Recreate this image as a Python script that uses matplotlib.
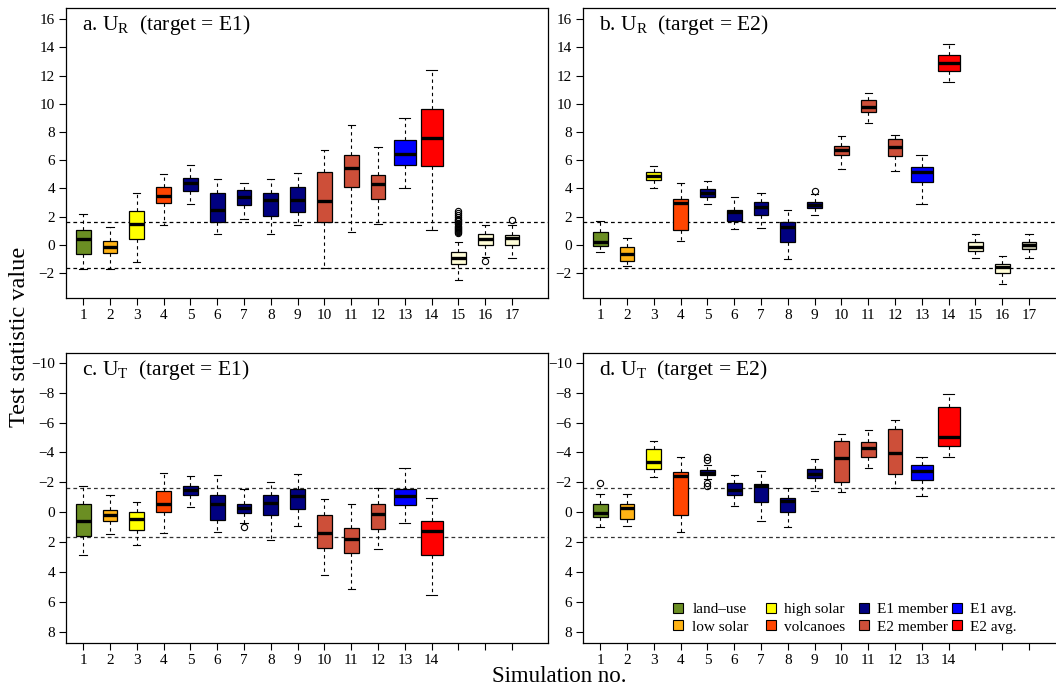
import numpy as np
import matplotlib
matplotlib.use("Agg")
import matplotlib.pyplot as plt
from matplotlib.lines import Line2D
from matplotlib.legend import Legend

plt.rcParams['font.family'] = 'Liberation Serif'
plt.rcParams['mathtext.fontset'] = 'custom'
plt.rcParams['mathtext.rm'] = 'Liberation Serif'
plt.rcParams['mathtext.it'] = 'Liberation Serif:italic'

sims = list(range(1, 18))
box_w = [0.55]*12 + [0.82, 0.82] + [0.55]*3

# colours per simulation
c_land, c_low, c_high, c_volc = '#6B8E23', '#FFB315', '#FFFF00', '#FF4500'
c_e1, c_e2, c_e1avg, c_e2avg = '#000080', '#CD4F39', '#0000FF', '#FF0000'
c_ctl, c_ctl2 = '#FFFDD8', '#C8C8AE'
cols_a = [c_land, c_low, c_high, c_volc] + [c_e1]*5 + [c_e2]*3 + [c_e1avg, c_e2avg] + [c_ctl]*3
cols_b = cols_a[:16] + [c_ctl2]

# a. U_R target E1
a_lo  = [-1.75, -1.70, -1.25, 1.40, 2.89, 0.76, 1.80, 0.76, 1.40, -1.66, 0.88, 1.44, 4.00, 1.04, -2.51, -0.85, -0.92]
a_q1  = [-0.66, -0.57, 0.43, 2.93, 3.81, 1.59, 2.84, 2.03, 2.29, 1.63, 4.09, 3.22, 5.68, 5.61, -1.40, 0.00, -0.05]
a_med = [0.38, -0.14, 1.49, 3.48, 4.35, 2.44, 3.38, 3.15, 3.19, 3.08, 5.44, 4.31, 6.46, 7.59, -0.97, 0.38, 0.47]
a_q3  = [1.04, 0.28, 2.37, 4.07, 4.76, 3.69, 3.86, 3.64, 4.09, 5.18, 6.34, 4.97, 7.43, 9.60, -0.52, 0.76, 0.66]
a_hi  = [2.18, 1.28, 3.69, 5.02, 5.68, 4.64, 4.40, 4.68, 5.11, 6.74, 8.49, 6.96, 8.99, 12.37, 0.21, 1.37, 1.37]
a_out = [[]]*14 + [[0.82, 0.90, 0.97, 1.05, 1.12, 1.20, 1.28, 1.36, 1.45, 1.55, 1.65, 1.75, 1.86, 1.98, 2.12, 2.27, 2.42],
                   [-1.15], [1.75]]

# b. U_R target E2
b_lo  = [-0.50, -1.51, 4.00, 0.28, 2.89, 1.09, 1.18, -0.99, 2.13, 5.35, 8.64, 5.25, 2.89, 11.52, -0.97, -2.77, -0.97]
b_q1  = [-0.07, -1.14, 4.59, 1.04, 3.41, 1.70, 2.08, 0.17, 2.58, 6.34, 9.39, 6.27, 4.42, 12.30, -0.47, -2.03, -0.33]
b_med = [0.17, -0.66, 4.90, 2.98, 3.69, 2.29, 2.70, 1.25, 2.84, 6.70, 9.79, 6.96, 5.13, 12.89, -0.14, -1.61, -0.05]
b_q3  = [0.88, -0.17, 5.13, 3.26, 3.93, 2.48, 3.00, 1.59, 3.03, 7.03, 10.29, 7.48, 5.54, 13.44, 0.17, -1.40, 0.17]
b_hi  = [1.70, 0.45, 5.61, 4.35, 4.52, 3.36, 3.64, 2.46, 3.60, 7.74, 10.79, 7.76, 6.36, 14.27, 0.73, -0.83, 0.73]
b_out = [[]]*8 + [[3.79]] + [[]]*8

# c. U_T target E1
c_lo  = [-1.72, -1.12, -0.69, -2.60, -2.44, -2.51, -1.52, -2.01, -2.55, -0.89, -0.54, -1.59, -2.98, -0.94]
c_q1  = [-0.54, -0.16, 0.00, -1.45, -1.74, -1.14, -0.58, -1.12, -1.54, 0.20, 1.03, -0.56, -1.54, 0.56]
c_med = [0.60, 0.22, 0.47, -0.56, -1.48, -0.56, -0.31, -0.63, -1.07, 1.36, 1.77, 0.09, -1.10, 1.28]
c_q3  = [1.57, 0.60, 1.16, -0.02, -1.12, 0.51, 0.07, 0.18, -0.22, 2.42, 2.75, 1.12, -0.51, 2.89]
c_hi  = [2.84, 1.43, 2.21, 1.36, -0.36, 1.30, 0.72, 1.86, 0.89, 4.18, 5.17, 2.48, 0.69, 5.57]
c_out = [[]]*6 + [[0.98]] + [[]]*7

# d. U_T target E2
d_lo  = [-1.25, -1.19, -4.77, -3.67, -3.15, -2.46, -2.73, -1.61, -3.58, -5.26, -5.53, -6.20, -3.71, -7.94]
d_q1  = [-0.54, -0.54, -4.25, -2.71, -2.82, -1.92, -1.90, -0.98, -2.86, -4.74, -4.68, -5.57, -3.13, -7.02]
d_med = [0.07, -0.29, -3.38, -2.44, -2.64, -1.48, -1.74, -0.72, -2.55, -3.65, -4.32, -3.98, -2.77, -5.06]
d_q3  = [0.31, 0.45, -2.91, 0.22, -2.46, -1.14, -0.69, -0.02, -2.26, -2.01, -3.71, -2.53, -2.13, -4.41]
d_hi  = [0.98, 0.92, -2.35, 1.32, -2.20, -0.43, 0.56, 1.01, -1.43, -1.36, -2.93, -1.59, -1.10, -3.71]
d_out = [[-1.92], [], [], [], [-3.72, -3.50, -1.98, -1.75]] + [[]]*9

legend_labels = ['land\u2013use', 'low solar', 'high solar', 'volcanoes',
                 'E1 member', 'E2 member', 'E1 avg.', 'E2 avg.']
legend_cols = [c_land, c_low, c_high, c_volc, c_e1, c_e2, c_e1avg, c_e2avg]

crit = 1.645

fig = plt.figure(figsize=(10.56, 6.88), dpi=100)
W, H = 1056, 688
def add_ax(x0, top, w=482, h=290):
    return fig.add_axes([x0 / W, 1 - (top + h) / H, w / W, h / H])

ax_a = add_ax(66, 8)
ax_b = add_ax(583, 8)
ax_c = add_ax(66, 352.7)
ax_d = add_ax(583, 352.7)


def draw(ax, lo, q1, med, q3, hi, out, cols, title, dash_col):
    n = len(med)
    stats = [dict(whislo=lo[i], q1=q1[i], med=med[i], q3=q3[i], whishi=hi[i], fliers=out[i])
             for i in range(n)]
    w = box_w[:n]
    bp = ax.bxp(stats, positions=sims[:n], widths=w, capwidths=[x / 2 for x in w],
                patch_artist=True, showfliers=True, manage_ticks=False, zorder=3,
                boxprops=dict(edgecolor='black', linewidth=0.9),
                medianprops=dict(color='black', linewidth=2.4, solid_capstyle='butt'),
                whiskerprops=dict(color='black', linewidth=0.8, linestyle=(0, (3, 3))),
                capprops=dict(color='black', linewidth=0.8),
                flierprops=dict(marker='o', markerfacecolor='none', markeredgecolor='black',
                                markersize=4.5, markeredgewidth=0.8))
    for patch, c in zip(bp['boxes'], cols):
        patch.set_facecolor(c)
    for y in (crit, -crit):
        ax.axhline(y, color=dash_col, linewidth=0.9, linestyle=(0, (3, 2.5)), zorder=1)
    ax.set_xlim(0.36, 18.34)
    ax.set_xticks(sims)
    ax.set_xticklabels([str(s) if s <= n else '' for s in sims])
    ax.tick_params(labelsize=11, length=5, width=0.8, direction='out', pad=3)
    for sp in ax.spines.values():
        sp.set_linewidth(0.9)
    ax.text(0.033, 0.982, title, transform=ax.transAxes, ha='left', va='top', fontsize=15.5)


draw(ax_a, a_lo, a_q1, a_med, a_q3, a_hi, a_out, cols_a, r'a. U$_\mathrm{R}$  (target = E1)', 'black')
draw(ax_b, b_lo, b_q1, b_med, b_q3, b_hi, b_out, cols_b, r'b. U$_\mathrm{R}$  (target = E2)', 'black')
draw(ax_c, c_lo, c_q1, c_med, c_q3, c_hi, c_out, cols_a[:14], r'c. U$_\mathrm{T}$  (target = E1)', '#333333')
draw(ax_d, d_lo, d_q1, d_med, d_q3, d_hi, d_out, cols_a[:14], r'd. U$_\mathrm{T}$  (target = E2)', '#333333')

for ax in (ax_a, ax_b):
    ax.set_ylim(-3.78, 16.8)
    ax.set_yticks(np.arange(-2, 17, 2))
for ax in (ax_c, ax_d):
    ax.set_ylim(8.73, -10.67)
    ax.set_yticks(np.arange(-10, 9, 2))

# legend in panel d, four evenly spaced columns
col_x = [0.179, 0.370, 0.563, 0.756]
for k in range(4):
    handles = [Line2D([], [], linestyle='none', marker='s', markersize=6.5,
                      markerfacecolor=legend_cols[j], markeredgecolor='black', markeredgewidth=0.8)
               for j in (2 * k, 2 * k + 1)]
    leg = Legend(ax_d, handles, [legend_labels[2 * k], legend_labels[2 * k + 1]],
                 loc='lower left', bbox_to_anchor=(col_x[k], 0.02), frameon=False,
                 fontsize=11, handlelength=0.8, handletextpad=0.5, labelspacing=0.25,
                 borderaxespad=0, borderpad=0.2)
    ax_d.add_artist(leg)

fig.text(20 / W, 1 - 337 / H, 'Test statistic value', rotation=90, ha='center', va='center', fontsize=17.5)
fig.text(559 / W, 1 - 677 / H, 'Simulation no.', ha='center', va='center', fontsize=16.5)

fig.savefig('out.png', dpi=100)
